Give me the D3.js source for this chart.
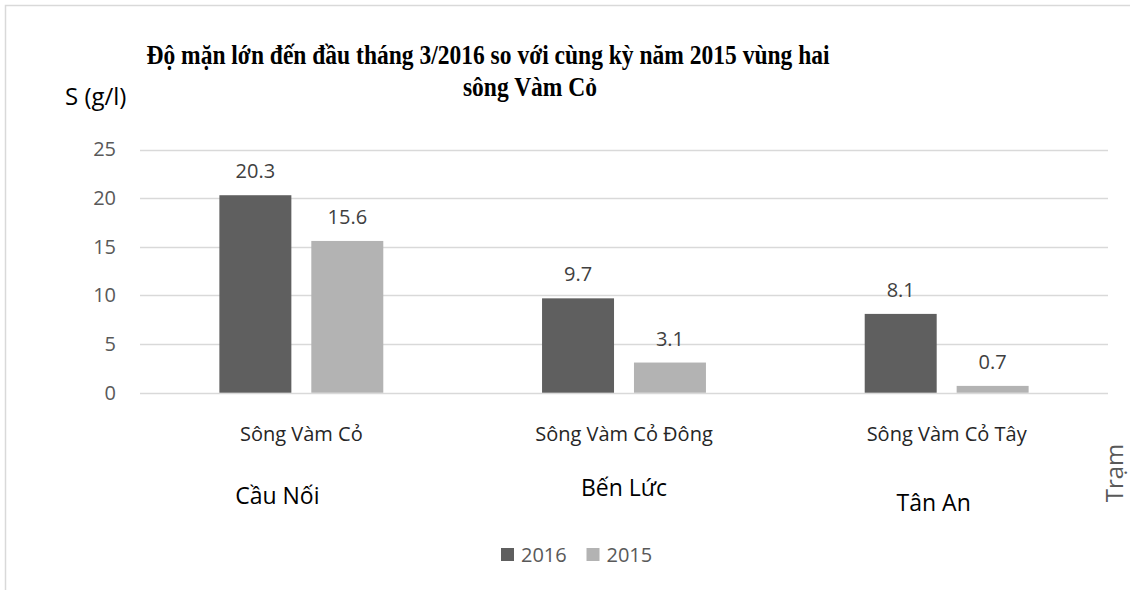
<!DOCTYPE html>
<html>
  <head>
    <meta charset="utf-8">
    <title>Độ mặn vùng hai sông Vàm Cỏ</title>
    <script src="https://cdn.jsdelivr.net/npm/d3@7"></script>
    <style>
      body { margin: 0; background: #fff; }
      svg { display: block; }
      .tick text { font-family: "Open Sans", sans-serif; }
    </style>
  </head>

  <body>
    <svg id="chart" width="1130" height="590"></svg>

    <script>
      // data
      var categories = ["Sông Vàm Cỏ", "Sông Vàm Cỏ Đông", "Sông Vàm Cỏ Tây"];
      var stations = ["Cầu Nối", "Bến Lức", "Tân An"];
      var seriesNames = ["2016", "2015"];
      var values2016 = [20.3, 9.7, 8.1];
      var values2015 = [15.6, 3.1, 0.7];
      var yTicks = [0, 5, 10, 15, 20, 25];

      var colours = { "2016": "#5f5f5f", "2015": "#b3b3b3" };
      var sans = "'Open Sans', sans-serif";

      // page elements
      var svg = d3.select("#chart");

      // outer frame (only top and left edges visible)
      svg.append("path")
        .attr("d", "M5.5,590V5.5H1130")
        .attr("fill", "none")
        .attr("stroke", "#d9d9d9")
        .attr("stroke-width", 1.5);

      // scales
      var x0 = d3.scaleBand()
        .domain(categories)
        .range([140, 1108])
        .paddingInner(0.492)
        .paddingOuter(0.246);
      var x1 = d3.scaleBand()
        .domain(seriesNames)
        .range([0, x0.bandwidth()])
        .paddingInner(0.217);
      var y = d3.scaleLinear()
        .domain([0, 25])
        .range([392.7, 149.5]);

      // gridlines
      svg.append("g")
        .selectAll("line")
        .data(yTicks)
        .enter().append("line")
          .attr("x1", 140)
          .attr("x2", 1108)
          .attr("y1", function(d) { return Math.round(y(d)) + 0.5; })
          .attr("y2", function(d) { return Math.round(y(d)) + 0.5; })
          .attr("stroke", "#d9d9d9")
          .attr("stroke-width", 1.3);

      // y axis labels
      var yAxis = d3.axisLeft(y)
        .tickValues(yTicks)
        .tickSize(0)
        .tickPadding(0);
      svg.append("g")
        .attr("transform", "translate(116, 0)")
        .call(yAxis)
        .call(function(g) {
          g.select(".domain").remove();
          g.selectAll("text")
            .attr("fill", "#595959")
            .style("font-size", "20px");
        });

      // bars
      var rows = categories.map(function(c, i) {
        return { category: c, values: [
          { key: "2016", value: values2016[i] },
          { key: "2015", value: values2015[i] }
        ] };
      });
      var groups = svg.append("g")
        .selectAll("g")
        .data(rows)
        .enter().append("g")
          .attr("transform", function(d) { return "translate(" + x0(d.category) + ",0)"; });
      groups.selectAll("rect")
        .data(function(d) { return d.values; })
        .enter().append("rect")
          .attr("x", function(d) { return x1(d.key); })
          .attr("width", x1.bandwidth())
          .attr("y", function(d) { return y(d.value); })
          .attr("height", function(d) { return y(0) - y(d.value); })
          .attr("fill", function(d) { return colours[d.key]; });
      groups.selectAll(".value")
        .data(function(d) { return d.values; })
        .enter().append("text")
          .attr("x", function(d) { return x1(d.key) + x1.bandwidth() / 2; })
          .attr("y", function(d) { return y(d.value) - 17; })
          .attr("text-anchor", "middle")
          .attr("fill", "#404040")
          .style("font-family", sans)
          .style("font-size", "20px")
          .text(function(d) { return d.value.toFixed(1); });

      // category labels
      var xAxis = d3.axisBottom(x0)
        .tickSize(0)
        .tickPadding(0);
      svg.append("g")
        .attr("transform", "translate(0, 441)")
        .call(xAxis)
        .call(function(g) {
          g.select(".domain").remove();
          g.selectAll("text")
            .attr("dy", 0)
            .attr("fill", "#262626")
            .style("font-size", "20px");
        });

      // station names (hand placed text boxes in the original)
      var stationOffsets = [[-24, 504], [0, 496], [-13, 511]];
      svg.append("g")
        .selectAll("text")
        .data(stations)
        .enter().append("text")
          .attr("x", function(d, i) { return x0(categories[i]) + x0.bandwidth() / 2 + stationOffsets[i][0]; })
          .attr("y", function(d, i) { return stationOffsets[i][1]; })
          .attr("text-anchor", "middle")
          .attr("fill", "#000")
          .style("font-family", sans)
          .style("font-size", "23px")
          .text(function(d) { return d; });

      // title (condensed serif, as in the original)
      var titleGroup = svg.append("g")
        .attr("transform", "translate(488, 0) scale(0.84, 1)");
      var title = titleGroup.append("text")
        .attr("fill", "#000")
        .attr("text-anchor", "middle")
        .style("font-family", "'Liberation Serif', 'Times New Roman', serif")
        .style("font-weight", "bold")
        .style("font-size", "28px");
      title.append("tspan")
        .attr("x", 0)
        .attr("y", 64)
        .text("Độ mặn lớn đến đầu tháng 3/2016 so với cùng kỳ năm 2015 vùng hai");
      title.append("tspan")
        .attr("x", 50)
        .attr("y", 96)
        .text("sông Vàm Cỏ");

      // axis titles
      svg.append("text")
        .attr("x", 65)
        .attr("y", 105)
        .attr("fill", "#000")
        .style("font-family", sans)
        .style("font-size", "24px")
        .text("S (g/l)");
      svg.append("text")
        .attr("transform", "translate(1123, 473) rotate(-90)")
        .attr("text-anchor", "middle")
        .attr("fill", "#595959")
        .style("font-family", sans)
        .style("font-size", "24px")
        .text("Trạm");

      // legend
      var legend = svg.append("g")
        .attr("transform", "translate(501, 555)");
      var items = legend.selectAll("g")
        .data(seriesNames)
        .enter().append("g")
          .attr("transform", function(d, i) { return "translate(" + (i * 85.5) + ",0)"; });
      items.append("rect")
        .attr("x", 0)
        .attr("y", -7)
        .attr("width", 13)
        .attr("height", 13)
        .attr("fill", function(d) { return colours[d]; });
      items.append("text")
        .attr("x", 20)
        .attr("y", 7)
        .attr("fill", "#595959")
        .style("font-family", sans)
        .style("font-size", "20px")
        .text(function(d) { return d; });
    </script>
  </body>
</html>
